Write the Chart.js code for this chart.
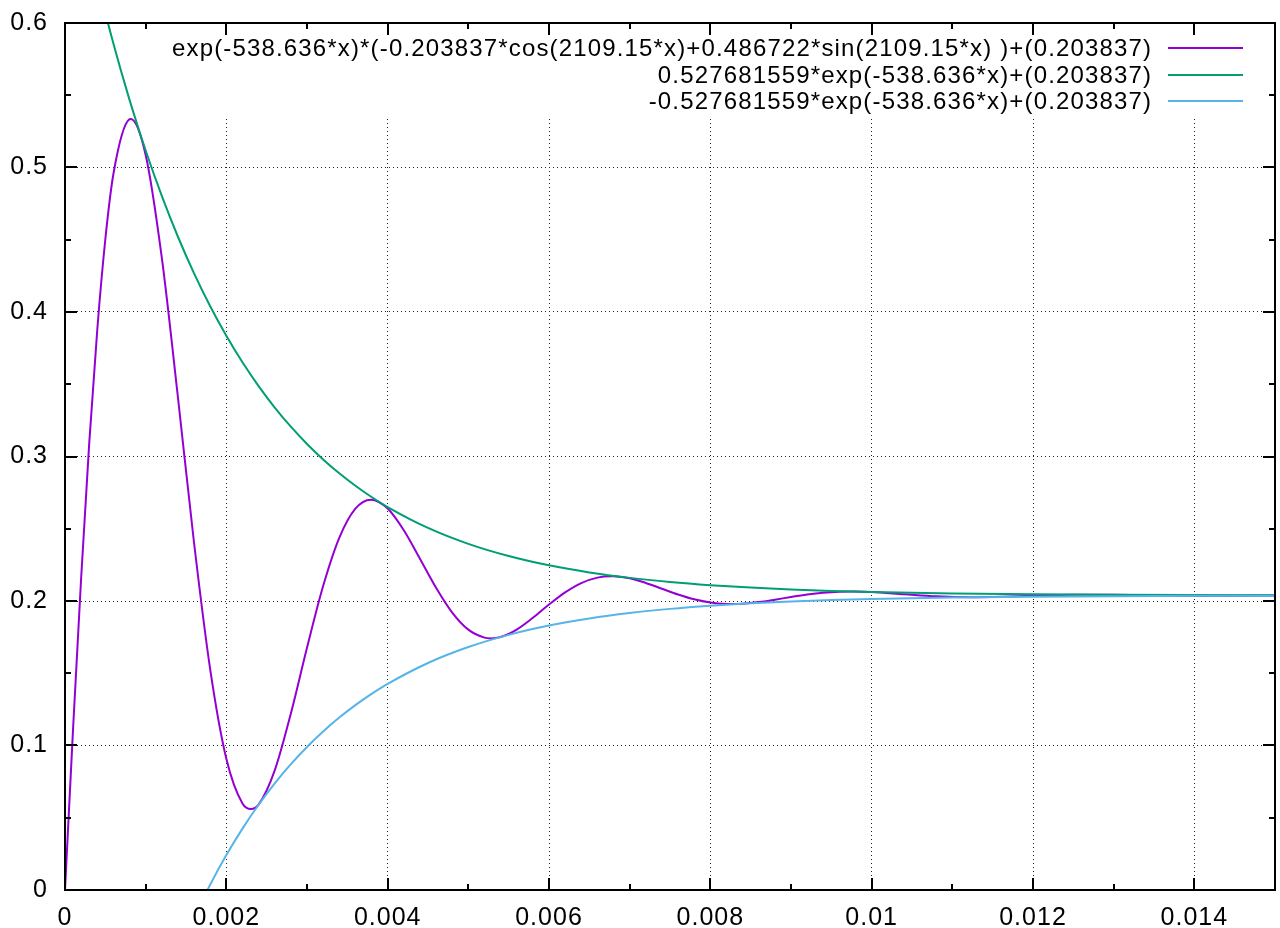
<!DOCTYPE html>
<html><head><meta charset="utf-8">
<script src="https://cdn.jsdelivr.net/npm/chart.js@4.4.0/dist/chart.umd.min.js"></script>
<style>html,body{margin:0;padding:0;background:#fff;}#wrap{width:1280px;height:928px;position:relative;}canvas{display:block;}</style>
</head><body><div id="wrap"><canvas id="c" width="1280" height="928"></canvas></div>
<script>
const seriesNames = [
  'exp(-538.636*x)*(-0.203837*cos(2109.15*x)+0.486722*sin(2109.15*x) )+(0.203837)',
  '0.527681559*exp(-538.636*x)+(0.203837)',
  '-0.527681559*exp(-538.636*x)+(0.203837)'
];
const seriesColors = ['#9400d3', '#009e73', '#56b4e9'];

const oscX = [
  0, 0.0001, 0.0002, 0.0003, 0.0004, 0.0005, 0.0006, 0.0008, 0.000814, 0.001,
  0.0012, 0.0014, 0.0016, 0.0018, 0.002, 0.0022, 0.002304, 0.0024, 0.0026, 0.0028,
  0.003, 0.0032, 0.0034, 0.0036, 0.003793, 0.004, 0.0042, 0.0044, 0.0046, 0.0048,
  0.005, 0.0052, 0.005283, 0.0054, 0.0056, 0.0058, 0.006, 0.0062, 0.0064, 0.0066,
  0.006772, 0.0068, 0.007, 0.0072, 0.0074, 0.0076, 0.0078, 0.008, 0.0082, 0.008262,
  0.0084, 0.0086, 0.0088, 0.009, 0.0092, 0.0094, 0.0096, 0.009751, 0.0098, 0.01,
  0.0104, 0.0108, 0.01124, 0.0116, 0.012, 0.0125, 0.013, 0.0135, 0.014, 0.0145,
  0.015
];
const oscY = [
  0, 0.11152, 0.21579, 0.30887, 0.38774, 0.45034, 0.49550, 0.53342, 0.53358, 0.50867,
  0.43756, 0.34100, 0.24013, 0.15272, 0.09084, 0.05991, 0.05601, 0.05914, 0.08280, 0.12219,
  0.16765, 0.21037, 0.24372, 0.26391, 0.27011, 0.26397, 0.24894, 0.22925, 0.20911, 0.19199,
  0.18018, 0.17463, 0.17413, 0.17505, 0.18023, 0.18836, 0.19752, 0.20596, 0.21241, 0.21617,
  0.21716, 0.21713, 0.21568, 0.21251, 0.20851, 0.20450, 0.20115, 0.19891, 0.19792, 0.19787,
  0.19812, 0.19924, 0.20092, 0.20276, 0.20442, 0.20567, 0.20636, 0.20651, 0.20650, 0.20616,
  0.20469, 0.20324, 0.20264, 0.20295, 0.20366, 0.20430, 0.20429, 0.20391, 0.20363, 0.20364,
  0.20381
];

const envX = [
  0, 0.0002, 0.0004, 0.0006, 0.0008, 0.001, 0.0012, 0.0014, 0.0016, 0.0018,
  0.002, 0.0022, 0.0024, 0.0026, 0.0028, 0.003, 0.0032, 0.0034, 0.0036, 0.0038,
  0.004, 0.0045, 0.005, 0.0055, 0.006, 0.0065, 0.007, 0.0075, 0.008, 0.0085,
  0.009, 0.0095, 0.01, 0.011, 0.012, 0.013, 0.014, 0.015
];
const upperY = [
  0.73152, 0.67763, 0.62924, 0.58580, 0.54679, 0.51176, 0.48032, 0.45208, 0.42673, 0.40396,
  0.38353, 0.36517, 0.34870, 0.33390, 0.32062, 0.30869, 0.29798, 0.28837, 0.27974, 0.27198,
  0.26503, 0.25058, 0.23954, 0.23111, 0.22467, 0.21975, 0.21600, 0.21313, 0.21093, 0.20926,
  0.20798, 0.20700, 0.20625, 0.20525, 0.20466, 0.20432, 0.20412, 0.20400
];
const lowerY = [
  -0.32385, -0.26996, -0.22157, -0.17812, -0.13911, -0.10409, -0.07264, -0.04440, -0.01905, 0.00371,
  0.02415, 0.04250, 0.05898, 0.07377, 0.08706, 0.09898, 0.10969, 0.11931, 0.12794, 0.13569,
  0.14265, 0.15710, 0.16813, 0.17656, 0.18300, 0.18792, 0.19168, 0.19455, 0.19674, 0.19842,
  0.19970, 0.20067, 0.20142, 0.20243, 0.20301, 0.20336, 0.20356, 0.20367
];

const xTickValues = [0, 0.002, 0.004, 0.006, 0.008, 0.01, 0.012, 0.014];
const xTickLabels = ['0', '0.002', '0.004', '0.006', '0.008', '0.01', '0.012', '0.014'];
const xMinorValues = [0.001, 0.003, 0.005, 0.007, 0.009, 0.011, 0.013];
const yTickValues = [0, 0.1, 0.2, 0.3, 0.4, 0.5, 0.6];
const yTickLabels = ['0', '0.1', '0.2', '0.3', '0.4', '0.5', '0.6'];
const yMinorValues = [0.05, 0.15, 0.25, 0.35, 0.45, 0.55];

const FONT = "'Liberation Sans', Arial, Helvetica, sans-serif";

function pts(xs, ys) { return xs.map((x, i) => ({ x: x, y: ys[i] })); }

function zeroPad(s) { s.paddingTop = 0; s.paddingBottom = 0; s.paddingLeft = 0; s.paddingRight = 0; }

const gnuplotFrame = {
  id: 'gnuplotFrame',
  beforeDraw(chart) { chart.ctx.letterSpacing = '1px'; },
  beforeDatasetsDraw(chart) {
    const { ctx, chartArea: a } = chart;
    ctx.save();
    ctx.fillStyle = '#fff';
    ctx.fillRect(163, a.top + 1, a.right - 1 - 163, 115 - a.top);
    ctx.restore();
  },
  afterDraw(chart) {
    const { ctx, chartArea: a } = chart;
    const xs = chart.scales.x, ys = chart.scales.y;
    ctx.save();
    ctx.letterSpacing = '0px';
    ctx.strokeStyle = '#000';
    ctx.lineWidth = 2;
    ctx.beginPath();
    [[xTickValues, 12], [xMinorValues, 6]].forEach(([vals, len]) => vals.forEach(v => {
      const px = Math.round(xs.getPixelForValue(v));
      ctx.moveTo(px, a.bottom); ctx.lineTo(px, a.bottom - len);
      ctx.moveTo(px, a.top); ctx.lineTo(px, a.top + len);
    }));
    [[yTickValues, 12], [yMinorValues, 6]].forEach(([vals, len]) => vals.forEach(v => {
      const py = Math.round(ys.getPixelForValue(v));
      ctx.moveTo(a.left, py); ctx.lineTo(a.left + len, py);
      ctx.moveTo(a.right, py); ctx.lineTo(a.right - len, py);
    }));
    ctx.stroke();
    ctx.strokeRect(a.left, a.top, a.right - a.left, a.bottom - a.top);

    // legend
    ctx.font = '24px ' + FONT;
    ctx.fillStyle = '#000';
    ctx.textBaseline = 'middle';
    ctx.textAlign = 'left';
    const textRight = 1151;
    const rowsY = [48, 75, 101];
    const w0 = ctx.measureText(seriesNames[0]).width;
    const ls = (979 - w0) / (seriesNames[0].length - 1);
    ctx.letterSpacing = ls.toFixed(3) + 'px';
    seriesNames.forEach((name, i) => {
      const w = ctx.measureText(name).width - ls;
      ctx.fillText(name, textRight - w, rowsY[i] + 1);
    });
    ctx.letterSpacing = '0px';
    ctx.lineWidth = 2;
    seriesNames.forEach((name, i) => {
      ctx.strokeStyle = seriesColors[i];
      ctx.beginPath();
      ctx.moveTo(1168, rowsY[i]); ctx.lineTo(1243, rowsY[i]);
      ctx.stroke();
    });
    ctx.restore();
  }
};

const lineStyle = (color, order) => ({
  borderColor: color, backgroundColor: color, borderWidth: 2,
  pointRadius: 0, pointHoverRadius: 0, fill: false,
  cubicInterpolationMode: 'monotone', order: order
});

new Chart(document.getElementById('c'), {
  type: 'line',
  data: {
    datasets: [
      Object.assign({ label: seriesNames[0], data: pts(oscX, oscY) }, lineStyle(seriesColors[0], 3)),
      Object.assign({ label: seriesNames[1], data: pts(envX, upperY) }, lineStyle(seriesColors[1], 2)),
      Object.assign({ label: seriesNames[2], data: pts(envX, lowerY) }, lineStyle(seriesColors[2], 1))
    ]
  },
  options: {
    responsive: false,
    animation: false,
    events: [],
    layout: { padding: { top: 23, right: 5, left: 0, bottom: 0 } },
    plugins: { legend: { display: false }, tooltip: { enabled: false } },
    scales: {
      x: {
        type: 'linear', min: 0, max: 0.015,
        afterBuildTicks: s => { s.ticks = xTickValues.map(v => ({ value: v })); },
        afterFit: s => { s.height = 38; zeroPad(s); },
        ticks: {
          autoSkip: false, maxRotation: 0, padding: 13, color: '#000',
          font: { family: FONT, size: 25 },
          callback: (v, i) => xTickLabels[i]
        },
        grid: {
          drawTicks: false, lineWidth: 1,
          color: c => (c.tick && c.tick.value === 0) ? 'rgba(0,0,0,0)' : '#222'
        },
        border: { display: false, dash: [1, 3] }
      },
      y: {
        type: 'linear', min: 0, max: 0.6,
        afterBuildTicks: s => { s.ticks = yTickValues.map(v => ({ value: v })); },
        afterFit: s => { s.width = 65; zeroPad(s); },
        ticks: {
          autoSkip: false, padding: 17, color: '#000',
          font: { family: FONT, size: 25 },
          callback: (v, i) => yTickLabels[i]
        },
        grid: {
          drawTicks: false, lineWidth: 1,
          color: c => (c.tick && (c.tick.value === 0 || c.tick.value === 0.6)) ? 'rgba(0,0,0,0)' : '#222'
        },
        border: { display: false, dash: [1, 3] }
      }
    }
  },
  plugins: [gnuplotFrame]
});
</script>
</body></html>
